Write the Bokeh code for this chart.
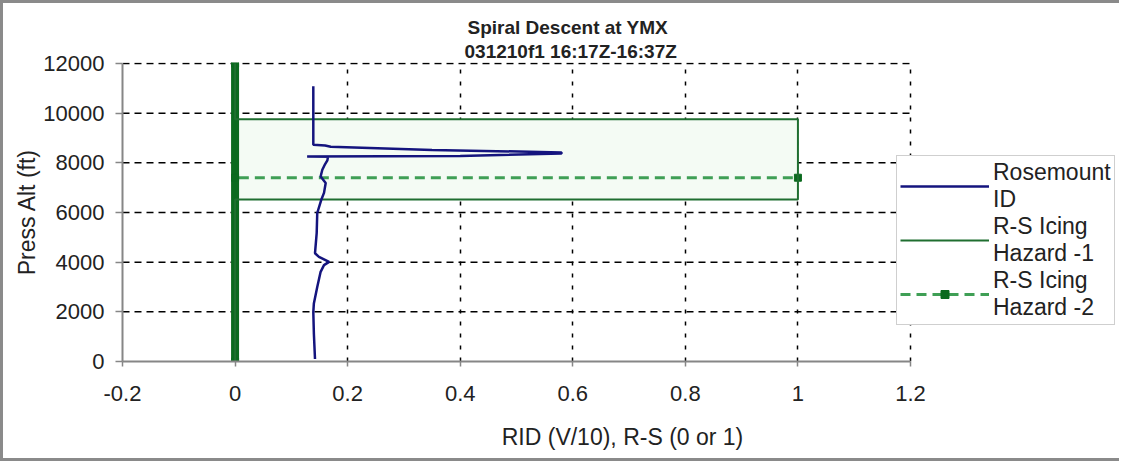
from bokeh.plotting import figure
from bokeh.models import Range1d, FixedTicker, Legend, LegendItem, Title
from bokeh.embed import file_html
from bokeh.resources import INLINE

# ---- data ----
rid_alt = [11080, 8730, 8700, 8650, 8520, 8420, 8380, 8270, 8250, 8240, 8100, 7950,
           7720, 7450, 7190, 6790, 6500, 5980, 5170, 4360, 4215, 4010, 3880, 3610,
           3000, 2340, 1990, 1130, 100]
rid_val = [0.139, 0.139, 0.160, 0.170, 0.350, 0.580, 0.580, 0.400, 0.128, 0.165, 0.164, 0.160,
           0.155, 0.152, 0.161, 0.158, 0.153, 0.146, 0.145, 0.142, 0.149, 0.167, 0.158, 0.152,
           0.146, 0.140, 0.139, 0.140, 0.142]

h1_alt = [0, 6520, 6520, 9750, 9750, 12000]
h1_val = [0, 0, 1, 1, 0, 0]

h2_alt = [0, 12000, 7400, 7400]
h2_val = [0, 0, 0, 1]

x_ticks = [-0.2, 0, 0.2, 0.4, 0.6, 0.8, 1.0, 1.2]
x_tick_labels = ["-0.2", "0", "0.2", "0.4", "0.6", "0.8", "1", "1.2"]
y_ticks = [0, 2000, 4000, 6000, 8000, 10000, 12000]
y_tick_labels = ["0", "2000", "4000", "6000", "8000", "10000", "12000"]

FONT = "Liberation Sans"
TXT = "#222222"

# frame spans to the right edge; x=1.2 sits at the reference's plot edge
X_END = -0.2 + 1000 * 1.4 / 788
p = figure(width=1119, height=461, output_backend="svg", toolbar_location=None,
           x_range=Range1d(-0.2, X_END), y_range=Range1d(0, 12040),
           min_border_left=119, min_border_right=0, min_border_top=59, min_border_bottom=103)
p.styles = {"border-top": "3px solid #8a8a8a", "border-left": "3px solid #8a8a8a",
            "border-bottom": "3px solid #8a8a8a"}
p.outline_line_color = None
p.background_fill_color = "white"
p.border_fill_color = "white"

# titles (subtitle first, then main title above it)
p.add_layout(Title(text="031210f1 16:17Z-16:37Z", align="left", offset=342,
                   text_font=FONT, text_font_size="19px", text_font_style="bold",
                   text_color=TXT, standoff=2), "above")
p.add_layout(Title(text="Spiral Descent at YMX", align="left", offset=345,
                   text_font=FONT, text_font_size="19px", text_font_style="bold",
                   text_color=TXT, standoff=0), "above")

# axes
p.xaxis.ticker = FixedTicker(ticks=x_ticks)
p.yaxis.ticker = FixedTicker(ticks=y_ticks)
p.xaxis.major_label_overrides = {t: l for t, l in zip(x_ticks, x_tick_labels)}
p.yaxis.major_label_overrides = {t: l for t, l in zip(y_ticks, y_tick_labels)}
p.xaxis.axis_label = "RID (V/10), R-S (0 or 1)"
p.yaxis.axis_label = "Press Alt (ft)"
for ax in (p.xaxis, p.yaxis):
    ax.axis_line_color = "#868686"
    ax.axis_line_width = 2
    ax.major_tick_line_color = "#868686"
    ax.major_tick_line_width = 1.5
    ax.major_tick_in = 0
    ax.minor_tick_line_color = None
    ax.major_label_text_font = FONT
    ax.major_label_text_font_size = "22px"
    ax.major_label_text_color = TXT
    ax.axis_label_text_font = FONT
    ax.axis_label_text_font_size = "23px"
    ax.axis_label_text_font_style = "normal"
    ax.axis_label_text_color = TXT
p.xaxis.bounds = (x_ticks[0], x_ticks[-1])
p.yaxis.bounds = (y_ticks[0], y_ticks[-1])
p.xaxis.major_tick_out = 5
p.xaxis.major_label_standoff = 19
p.xaxis.axis_label_standoff = 20
p.yaxis.major_tick_out = 7
p.yaxis.major_label_standoff = 11
p.yaxis.axis_label_standoff = 0

# grid: vertical lines from the grid, horizontal ones limited to the x tick span
p.xgrid.grid_line_color = "black"
p.xgrid.grid_line_width = 1.5
p.xgrid.grid_line_dash = "4 8"
p.ygrid.grid_line_color = None
gy = y_ticks[1:]
p.segment(x0=[x_ticks[0]] * len(gy), x1=[x_ticks[-1]] * len(gy), y0=gy, y1=gy,
          line_color="black", line_width=1.5, line_dash="7 5")

# hazard box faint fill
p.harea(y=h1_alt, x1=[0] * len(h1_alt), x2=h1_val, fill_color="#f4fbf4", fill_alpha=1.0)

# hazard -2: dashed line, marker column at 0, markers
h2_line = p.line(h2_val, h2_alt, line_color="#3f9f55", line_width=3, line_dash="10 6")
zero_alt = [a for a, v in zip(h2_alt, h2_val) if v == 0]
p.line([0] * len(zero_alt), zero_alt, line_color="#0b6a1f", line_width=8)
h2_mark = p.scatter(h2_val, h2_alt, marker="square", size=7, fill_color="#0b6a1f",
                    line_color="#0b6a1f")

# hazard -1
h1_line = p.line(h1_val, h1_alt, line_color="#1f6e30", line_width=2)

# rosemount
rid_line = p.line(rid_val, rid_alt, line_color="#14147e", line_width=2.5)

legend = Legend(items=[
    LegendItem(label="Rosemount\nID", renderers=[rid_line]),
    LegendItem(label="R-S Icing\nHazard -1", renderers=[h1_line]),
    LegendItem(label="R-S Icing\nHazard -2", renderers=[h2_line, h2_mark]),
], location=(774, 36))
legend.label_text_font = FONT
legend.label_text_font_size = "23px"
legend.label_text_color = TXT
legend.label_text_line_height = 0.8
legend.glyph_width = 89
legend.glyph_height = 20
legend.label_standoff = 4
legend.padding = 3
legend.spacing = 0
legend.margin = 0
legend.border_line_color = "#a0a0a0"
legend.border_line_width = 1.5
legend.background_fill_color = "white"
legend.background_fill_alpha = 1.0
p.add_layout(legend, "center")

open("out.html", "w").write(file_html(p, INLINE))
